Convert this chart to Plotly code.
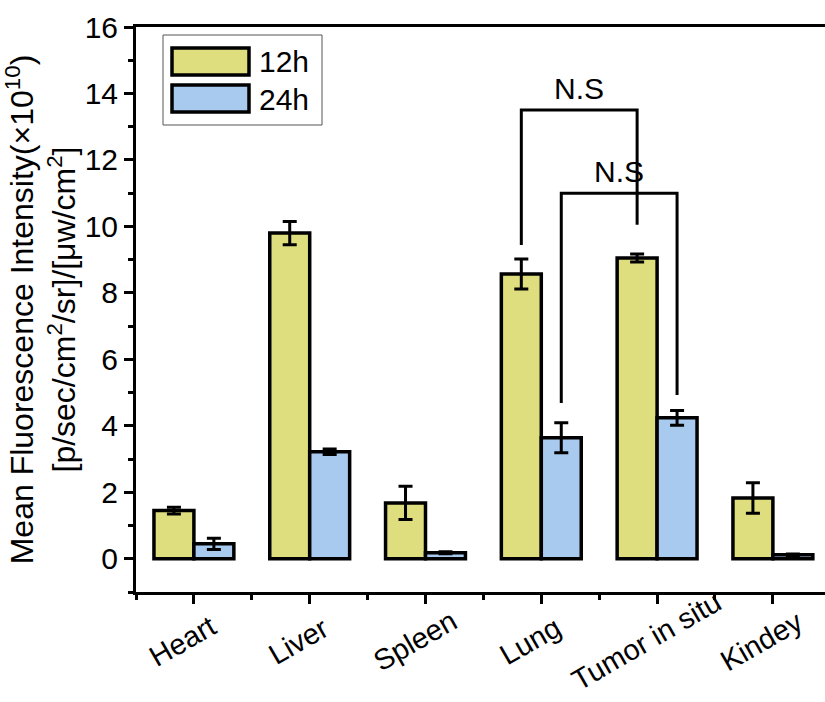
import plotly.graph_objects as go

# Organ biodistribution of the fluorescence signal at two time points
organs = ["Heart", "Liver", "Spleen", "Lung", "Tumor in situ", "Kindey"]
mfi_12h = [1.45, 9.80, 1.68, 8.57, 9.05, 1.83]
err_12h = [0.10, 0.35, 0.50, 0.45, 0.12, 0.46]
mfi_24h = [0.45, 3.22, 0.18, 3.64, 4.24, 0.12]
err_24h = [0.17, 0.08, 0.03, 0.45, 0.22, 0.02]

y_ticks = [0, 2, 4, 6, 8, 10, 12, 14, 16]

# Significance brackets: (left organ, left series, right organ, right series,
# bracket top, left leg end, right leg end, label)
brackets = [
    ("Lung", "12h", "Tumor in situ", "12h", 13.5, 9.44, 10.05, "N.S"),
    ("Lung", "24h", "Tumor in situ", "24h", 11.0, 4.69, 4.93, "N.S"),
]

YELLOW = "#DEDE7E"
BLUE = "#A8CAEF"
FONT = "Arial, Liberation Sans, sans-serif"

BARGAP = 0.31
bar_w = (1 - BARGAP) / 2
xpos = list(range(len(organs)))
offset = {"12h": -bar_w / 2, "24h": bar_w / 2}

fig = go.Figure()
for name, vals, errs, col in [("12h", mfi_12h, err_12h, YELLOW),
                              ("24h", mfi_24h, err_24h, BLUE)]:
    fig.add_trace(go.Bar(
        x=xpos, y=vals, name=name, showlegend=False,
        marker=dict(color=col, line=dict(color="black", width=3.5)),
        error_y=dict(type="data", array=errs, visible=True,
                     color="black", thickness=3, width=7),
    ))

for lo, ls, ro, rs, top, lend, rend, label in brackets:
    xl = organs.index(lo) + offset[ls]
    xr = organs.index(ro) + offset[rs]
    fig.add_trace(go.Scatter(
        x=[xl, xl, xr, xr], y=[lend, top, top, rend], mode="lines",
        line=dict(color="black", width=3), showlegend=False,
        hoverinfo="skip",
    ))
    fig.add_annotation(x=(xl + xr) / 2, y=top, text=label, showarrow=False,
                       yanchor="bottom", yshift=3,
                       font=dict(size=30, color="black", family=FONT))

# Pixel layout helpers (plot area: left 136, width 689, top 27, height 565)
PX_L, PX_W, PX_T, PX_H = 136, 689, 27, 565


def px_x(px):
    return (px - PX_L) / PX_W


def px_y(py):
    return 1 - (py - PX_T) / PX_H


# Slanted category labels, centred under each tick
for xi, name in zip(xpos, organs):
    fig.add_annotation(x=xi, xref="x", y=px_y(641), yref="paper",
                       text=name, showarrow=False, textangle=-30,
                       xanchor="center", yanchor="middle", xshift=-11,
                       font=dict(size=29, color="black", family=FONT))

# Legend box with large outlined swatches
fig.add_shape(type="rect", xref="paper", yref="paper",
              x0=px_x(163), x1=px_x(322), y0=px_y(125), y1=px_y(35),
              line=dict(color="#555555", width=1), fillcolor="white")
for i, (name, col) in enumerate([("12h", YELLOW), ("24h", BLUE)]):
    top_px = 48 + i * 37
    fig.add_shape(type="rect", xref="paper", yref="paper",
                  x0=px_x(172), x1=px_x(249),
                  y0=px_y(top_px + 27), y1=px_y(top_px),
                  line=dict(color="black", width=3.5), fillcolor=col)
    fig.add_annotation(xref="paper", yref="paper",
                       x=px_x(257), y=px_y(top_px + 14),
                       text=name, showarrow=False, xanchor="left",
                       yanchor="middle",
                       font=dict(size=30, color="black", family=FONT))

fig.update_layout(
    width=825, height=702,
    margin=dict(l=136, r=0, t=27, b=110),
    paper_bgcolor="white", plot_bgcolor="white",
    barmode="group", bargap=BARGAP, bargroupgap=0,
    font=dict(family=FONT, color="black"),
    xaxis=dict(
        range=[-0.5, 5.45], tickmode="array", tickvals=xpos, ticktext=organs,
        showticklabels=False, automargin=False,
        showline=True, linecolor="black", linewidth=3, mirror=True,
        ticks="outside", ticklen=9, tickwidth=3, tickcolor="black",
        showgrid=False, zeroline=False,
        minor=dict(tickmode="linear", tick0=-0.5, dtick=1, ticks="outside",
                   ticklen=5, tickwidth=3, tickcolor="black"),
    ),
    yaxis=dict(
        range=[-1, 16], tickmode="array", tickvals=y_ticks,
        tickfont=dict(size=30), automargin=False,
        showline=True, linecolor="black", linewidth=3,
        ticks="outside", ticklen=9, tickwidth=3, tickcolor="black",
        showgrid=False, zeroline=False,
        minor=dict(tickmode="linear", tick0=1, dtick=2, ticks="outside",
                   ticklen=5, tickwidth=3, tickcolor="black"),
        title=dict(
            text="Mean Fluorescence Intensity(×10<sup>10</sup>)<br>"
                 "[p/sec/cm<sup>2</sup>/sr]/[μw/cm<sup>2</sup>]",
            font=dict(size=32), standoff=6),
    ),
)

fig.write_html("out.html")
